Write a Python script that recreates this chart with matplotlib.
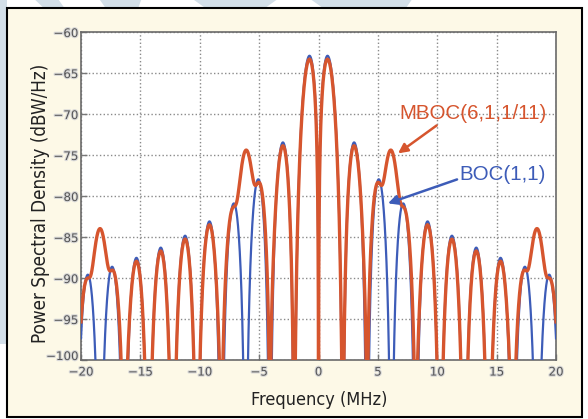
import numpy as np
import matplotlib.pyplot as plt
import matplotlib.patheffects as pe
from matplotlib.patches import Rectangle, Polygon

# signal parameters (GNSS reference chip rate, BOC(m,n) orders, MBOC power split)
f0 = 1.023e6
boc11 = (1, 1)
boc61 = (6, 1)
w_boc11 = 10 / 11
w_boc61 = 1 / 11

freq_mhz = np.linspace(-20, 20, 6000)
xticks = [-20, -15, -10, -5, 0, 5, 10, 15, 20]
yticks = [-100, -95, -90, -85, -80, -75, -70, -65, -60]

RED = '#d6552e'
BLUE = '#3d5cb8'


def boc_psd(f, m, n):
    # sine-phased BOC(m,n), 2m/n even
    fs = m * f0
    fc = n * f0
    num = np.sin(np.pi * f / (2 * fs)) * np.sin(np.pi * f / fc)
    den = np.pi * f * np.cos(np.pi * f / (2 * fs))
    return fc * (num / den) ** 2


f = freq_mhz * 1e6
with np.errstate(divide='ignore', invalid='ignore'):
    g_boc = boc_psd(f, *boc11)
    g_mboc = w_boc11 * boc_psd(f, *boc11) + w_boc61 * boc_psd(f, *boc61)
    db_boc = 10 * np.log10(g_boc)
    db_mboc = 10 * np.log10(g_mboc)

fig = plt.figure(figsize=(5.88, 4.19), dpi=100)
fig.patch.set_facecolor('white')

# faint watermark shapes behind the panel
wm = '#d3dfe8'
for pts in [[(0, 1), (0.012, 1), (0.012, 0.18), (0, 0.18)],
            [(0.06, 1), (0.10, 1), (0.11, 0.98), (0.075, 0.98)],
            [(0.17, 1), (0.24, 1), (0.235, 0.98), (0.18, 0.98)],
            [(0.33, 1), (0.47, 1), (0.45, 0.98), (0.35, 0.98)],
            [(0.53, 1), (0.7, 1), (0.69, 0.98), (0.55, 0.98)]]:
    fig.patches.append(Polygon(pts, closed=True, transform=fig.transFigure,
                               facecolor=wm, edgecolor='none', zorder=0))

fig.patches.append(Rectangle((7 / 588, 2 / 419), 575 / 588, 409 / 419,
                             transform=fig.transFigure, facecolor='#fdf9e7',
                             edgecolor='black', linewidth=1.5, zorder=1))

ax = fig.add_axes([81 / 588, 1 - 360 / 419, 475 / 588, 328 / 419])
ax.set_zorder(2)
ax.set_facecolor('white')

ax.plot(freq_mhz, db_boc, color=BLUE, lw=1.6, zorder=3)
ax.plot(freq_mhz, db_mboc, color=RED, lw=2.4, zorder=4)

ax.set_xlim(-20, 20)
ax.set_ylim(-100, -60)
ax.set_xticks(xticks)
ax.set_yticks(yticks)
ax.grid(True, linestyle=':', color='#8a8a8a', linewidth=1.0)
ax.tick_params(direction='in', length=4, width=1, color='#777777',
               labelsize=8.5, labelcolor='#555555')
ax.tick_params(axis='x', pad=4)
ax.tick_params(axis='y', pad=2)
for lab in ax.get_xticklabels() + ax.get_yticklabels():
    lab.set_path_effects([pe.withStroke(linewidth=1.6, foreground='#d8d8d8')])
# keep the bottom y label clear of the first x label
ax.get_yticklabels()[0].set_va('baseline')
for sp in ax.spines.values():
    sp.set_color('#6a6a6a')
    sp.set_linewidth(1.2)

label_font = ['DejaVu Sans']
fig.text(319 / 588, 1 - 400 / 419, 'Frequency (MHz)', family=label_font,
         stretch='condensed', fontsize=13, color='#222222',
         ha='center', va='center')
fig.text(40 / 588, 1 - 203 / 419, 'Power Spectral Density (dBW/Hz)',
         family=label_font, stretch='condensed', fontsize=13.5,
         color='#222222', rotation=90, ha='center', va='center')

txt_font = ['Liberation Sans', 'DejaVu Sans']
ax.annotate('MBOC(6,1,1/11)', xy=(6.7, -74.8), xytext=(6.8, -69.9),
            fontsize=14.8, family=txt_font, color=RED, va='center', ha='left',
            arrowprops=dict(arrowstyle='-|>', color=RED, lw=1.8,
                            mutation_scale=14, shrinkA=0, shrinkB=0,
                            relpos=(0.28, 0.0)),
            zorder=6)
ax.annotate('BOC(1,1)', xy=(5.85, -80.9), xytext=(11.9, -77.4),
            fontsize=14.8, family=txt_font, color=BLUE, va='center', ha='left',
            arrowprops=dict(arrowstyle='-|>', color=BLUE, lw=1.8,
                            mutation_scale=14, shrinkA=0, shrinkB=0,
                            relpos=(0.0, 0.3)),
            zorder=6)

fig.savefig('out.png', dpi=100, facecolor=fig.get_facecolor())
